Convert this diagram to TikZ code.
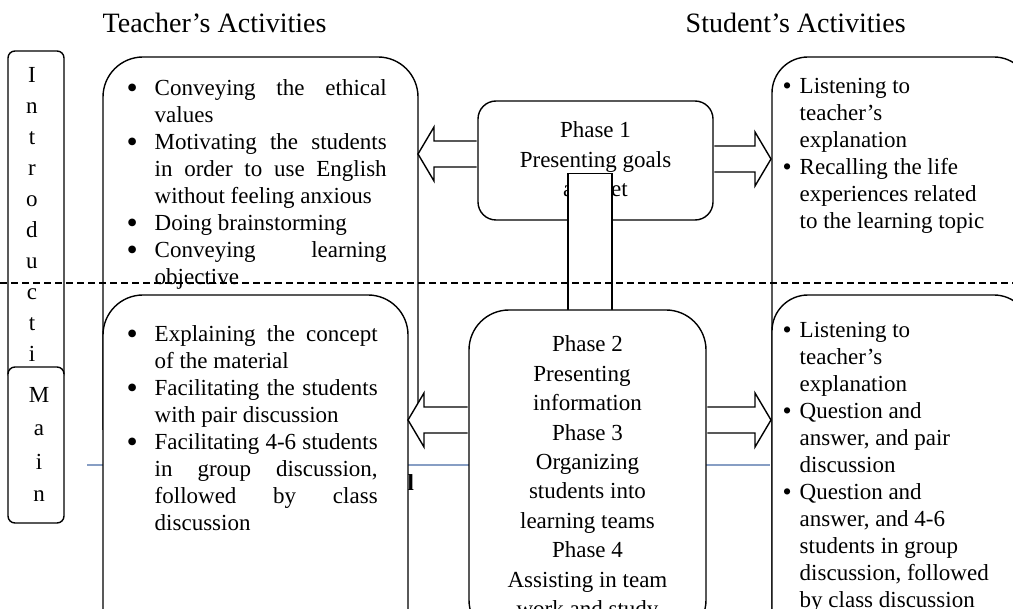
\documentclass[tikz,border=0pt]{standalone}
\usepackage{fontspec}
\setmainfont{Liberation Serif}
\usetikzlibrary{calc}
\newcommand\bl[1]{\makebox[#1][l]{\raisebox{-1.1pt}{\fontsize{16}{16}\selectfont\textbullet}}}
\newcommand\sbl[1]{\makebox[#1][l]{\raisebox{-0.3pt}{\fontsize{13}{13}\selectfont\textbullet}}}
\newcommand\blockarr[4]{%
  \filldraw[arrowbox] let \p1=(#1), \p2=(#2) in
  ({\x1+(#4)},{\y2+6.5pt}) -- ({\x2+(#3)},{\y2+6.5pt}) -- ({\x2+(#3)},{\y2+13.5pt}) -- (\x2,\y2) -- ({\x2+(#3)},{\y2-13.5pt}) -- ({\x2+(#3)},{\y2-6.5pt}) -- ({\x1+(#4)},{\y2-6.5pt});}
\begin{document}
\begin{tikzpicture}[x=0.5pt,y=-0.5pt,line width=0.7pt,
  actbox/.style={draw=black,fill=white,line width=0.7pt,rounded corners=20pt},
  sidebox/.style={draw=black,fill=white,line width=0.7pt,rounded corners=3.5pt},
  phasebox/.style={draw=black,fill=white,line width=0.7pt,inner sep=0pt},
  arrowbox/.style={draw=black,fill=white,line width=0.7pt,line join=miter},
  txt/.style={inner sep=0pt,font=\fontsize{11.5}{13.5}\selectfont},
  title/.style={inner sep=0pt,anchor=base west,font=\fontsize{14}{16}\selectfont},
  blueline/.style={draw={rgb,255:red,135;green,158;blue,196},line width=0.6pt},
  divider/.style={draw=black,line width=0.8pt,dash pattern=on 3.5pt off 2pt}]
\useasboundingbox (0,0) rectangle (1013,609);
\clip (0,0) rectangle (1013,609);

% side labels
\filldraw[sidebox] (8,51) rectangle (64,380);
\node[txt,anchor=base] (introtxt) at (32,83) {\parbox[t]{20pt}{\centering\fontsize{11.5}{15.45}\selectfont I\\n\\t\\r\\o\\d\\u\\c\\t\\i}};
\filldraw[sidebox] (8,367) rectangle (64,523);
\node[txt,anchor=base] (maintxt) at (39,403) {\parbox[t]{20pt}{\centering\fontsize{11.5}{16.5}\selectfont M\\a\\i\\n}};

% titles
\node[title] (ttitle) at (102,33) {Teacher’s Activities};
\node[title] (stitle) at (685,33) {Student’s Activities};

% upper teacher box
\filldraw[actbox] (103,430) -- (103,57) -- (418,57) -- (418,430);
\node[txt,anchor=base west] (tup) at (126,96) {\parbox[t]{130pt}{%
\bl{14pt}\makebox[116pt][s]{Conveying the ethical}\\
\hspace*{14pt}values\\
\bl{14pt}\makebox[116pt][s]{Motivating the students}\\
\hspace*{14pt}\makebox[116pt][s]{in order to use English}\\
\hspace*{14pt}without feeling anxious\\
\bl{14pt}Doing brainstorming\\
\bl{14pt}\makebox[116pt][s]{Conveying learning}\\
\hspace*{14pt}objective}};

% upper student box
\filldraw[actbox,rounded corners=18pt] (772,700) -- (772,57) -- (1030,57) -- (1030,700);
\node[txt,anchor=base west] (sup) at (782,94) {\parbox[t]{120pt}{%
\sbl{8.5pt}Listening to\\
\hspace*{8.5pt}teacher’s\\
\hspace*{8.5pt}explanation\\
\sbl{8.5pt}Recalling the life\\
\hspace*{8.5pt}experiences related\\
\hspace*{8.5pt}to the learning topic}};

% background stray marks
\draw[blueline] (87,465) -- (770,465);
\node[txt,anchor=base west,font=\fontsize{11.5}{13.5}\selectfont\bfseries] (frag) at (407,490) {l};

% lower teacher box
\filldraw[actbox] (103,700) -- (103,295) -- (408,295) -- (408,700);
\node[txt,anchor=base west] (tlow) at (126,342) {\parbox[t]{126pt}{%
\bl{14pt}\makebox[111.5pt][s]{Explaining the concept}\\
\hspace*{14pt}of the material\\
\bl{14pt}\makebox[111.5pt][s]{Facilitating the students}\\
\hspace*{14pt}with pair discussion\\
\bl{14pt}\makebox[111.5pt][s]{Facilitating 4-6 students}\\
\hspace*{14pt}\makebox[111.5pt][s]{in group discussion,}\\
\hspace*{14pt}\makebox[111.5pt][s]{followed by class}\\
\hspace*{14pt}discussion}};

% lower student box
\filldraw[actbox,rounded corners=18pt] (772,700) -- (772,295) -- (1030,295) -- (1030,700);
\node[txt,anchor=base west] (slow) at (782,338) {\parbox[t]{120pt}{%
\sbl{8.5pt}Listening to\\
\hspace*{8.5pt}teacher’s\\
\hspace*{8.5pt}explanation\\
\sbl{8.5pt}Question and\\
\hspace*{8.5pt}answer, and pair\\
\hspace*{8.5pt}discussion\\
\sbl{8.5pt}Question and\\
\hspace*{8.5pt}answer, and 4-6\\
\hspace*{8.5pt}students in group\\
\hspace*{8.5pt}discussion, followed\\
\hspace*{8.5pt}by class discussion}};

% phase 1
\node[phasebox,rounded corners=9pt,minimum width=117.5pt,minimum height=59.5pt] (p1) at (595.5,160.5) {};
\node[txt,anchor=base] (p1t) at (595.5,138) {\parbox[t]{110pt}{\centering\fontsize{11.5}{14.75}\selectfont Phase 1\\ Presenting goals\\ and set}};
\node[phasebox,minimum width=22pt,minimum height=69.5pt,anchor=north] (link) at (590,173) {};

% phase 2
\node[phasebox,rounded corners=20pt,minimum width=118.5pt,minimum height=165pt] (p2) at (587.5,475) {};
\node[txt,anchor=base] (p2t) at (587.5,352) {\parbox[t]{115pt}{\centering\fontsize{11.5}{14.7}\selectfont Phase 2\\ Presenting\rule{5.5pt}{0pt}\\ information\\ Phase 3\\ Organizing\\ students into\\ learning teams\\ Phase 4\\ Assisting in team\\ work and study}};

% block arrows
\coordinate (tipA) at (418,154);
\coordinate (tipB) at (771,159);
\coordinate (tipC) at (408,420);
\coordinate (tipD) at (771,420);
\blockarr{p1.west |- tipA}{tipA}{8pt}{-0.35pt}
\blockarr{p1.east |- tipB}{tipB}{-8pt}{0.35pt}
\blockarr{p2.west |- tipC}{tipC}{8pt}{-0.35pt}
\blockarr{p2.east |- tipD}{tipD}{-8pt}{0.35pt}

% dashed divider
\coordinate (dl) at (0,283);
\coordinate (dr) at (1013,283);
\draw[divider] (dl) -- (dr);
\end{tikzpicture}
\end{document}
